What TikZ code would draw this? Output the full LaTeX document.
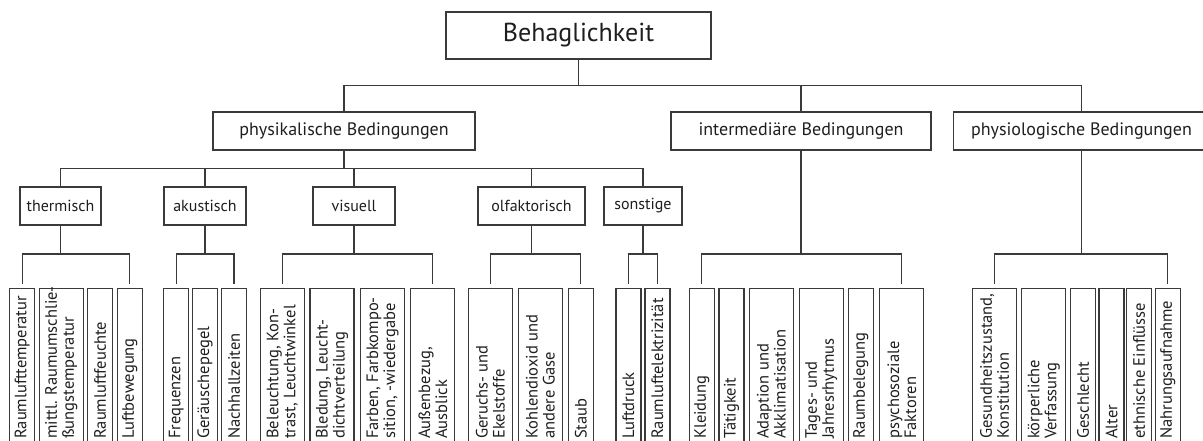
\documentclass[tikz,border=0pt]{standalone}
\usepackage{fontspec}
\setmainfont{PT Sans}
\definecolor{linec}{HTML}{3A3A3A}
\definecolor{txtc}{HTML}{1E1E1E}
\tikzset{
  box/.style={draw=linec, line width=1.1pt, inner sep=0pt, text=txtc},
  lvlone/.style={box, minimum height=38pt, font=\fontsize{18}{21}\selectfont},
  catbox/.style={box, minimum height=38pt, font=\fontsize{16}{19}\selectfont},
  leafbox/.style={draw=linec, line width=1.1pt, anchor=north, minimum height=180pt, inner sep=0pt},
  single/.style={leafbox, minimum width=25pt},
  double/.style={leafbox, minimum width=44pt},
  leaftext/.style={rotate=90, anchor=west, inner sep=0pt, align=left, text=txtc, font=\fontsize{16.5}{17}\selectfont},
  conn/.style={draw=linec, line width=1.1pt}
}
\begin{document}
\begin{tikzpicture}[x=1pt,y=-1pt]
\useasboundingbox (0,0) rectangle (1203,441);
% root and level 1
\node[box, minimum width=265pt, minimum height=47pt, font=\fontsize{26}{30}\selectfont] (root) at (578.5,35.5) {Behaglichkeit};
\node[lvlone, minimum width=262pt] (phys) at (344,131) {physikalische Bedingungen};
\node[lvlone, minimum width=260pt] (inter) at (801,131) {intermediäre Bedingungen};
\node[lvlone, minimum width=256pt] (phyl) at (1081.5,131) {physiologische Bedingungen};
% categories
\node[catbox, minimum width=81pt] (therm) at (60.5,206) {thermisch};
\node[catbox, minimum width=82pt] (akust) at (205,206) {akustisch};
\node[catbox, minimum width=82pt] (visu) at (354,206) {visuell};
\node[catbox, minimum width=107pt] (olfak) at (531.5,206) {olfaktorisch};
\node[catbox, minimum width=78pt] (sonst) at (643,206) {sonstige};
% leaves: thermisch
\node[single] (t1) at (22.2,288) {};
\node[leaftext] (t1x) at (22.2,439) {Raumlufttemperatur};
\node[double] (t2) at (61.3,288) {};
\node[leaftext] (t2x) at (61.3,439) {mittl. Raumumschlie-\\ßungstemperatur};
\node[single] (t3) at (100.2,288) {};
\node[leaftext] (t3x) at (100.2,439) {Raumluftfeuchte};
\node[single] (t4) at (129.8,288) {};
\node[leaftext] (t4x) at (129.8,439) {Luftbewegung};
% akustisch
\node[single] (a1) at (176.2,288) {};
\node[leaftext] (a1x) at (176.2,439) {Frequenzen};
\node[single] (a2) at (205,288) {};
\node[leaftext] (a2x) at (205,439) {Geräuschepegel};
\node[single] (a3) at (234,288) {};
\node[leaftext] (a3x) at (234,439) {Nachhallzeiten};
% visuell
\node[double] (v1) at (282.2,288) {};
\node[leaftext] (v1x) at (282.2,439) {Beleuchtung, Kon-\\trast, Leuchtwinkel};
\node[double] (v2) at (332,288) {};
\node[leaftext] (v2x) at (332,439) {Bledung, Leucht-\\dichtverteilung};
\node[double] (v3) at (382.5,288) {};
\node[leaftext] (v3x) at (382.5,439) {Farben, Farbkompo-\\sition, -wiedergabe};
\node[double] (v4) at (432.8,288) {};
\node[leaftext] (v4x) at (432.8,439) {Außenbezug,\\Ausblick};
% olfaktorisch
\node[double] (o1) at (490.3,288) {};
\node[leaftext] (o1x) at (490.3,439) {Geruchs- und\\Ekelstoffe};
\node[double] (o2) at (540.3,288) {};
\node[leaftext] (o2x) at (540.3,439) {Kohlendioxid und\\andere Gase};
\node[single] (o3) at (580.8,288) {};
\node[leaftext] (o3x) at (580.8,439) {Staub};
% sonstige
\node[single] (s1) at (628.5,288) {};
\node[leaftext] (s1x) at (628.5,439) {Luftdruck};
\node[single] (s2) at (657.5,288) {};
\node[leaftext] (s2x) at (657.5,439) {Raumluftelektrizität};
% intermediaere
\node[single] (i1) at (701.8,288) {};
\node[leaftext] (i1x) at (701.8,439) {Kleidung};
\node[single] (i2) at (731.5,288) {};
\node[leaftext] (i2x) at (731.5,439) {Tätigkeit};
\node[double] (i3) at (771.3,288) {};
\node[leaftext] (i3x) at (771.3,439) {Adaption und\\Akklimatisation};
\node[double] (i4) at (821.2,288) {};
\node[leaftext] (i4x) at (821.2,439) {Tages- und\\Jahresrhytmus};
\node[single] (i5) at (860.8,288) {};
\node[leaftext] (i5x) at (860.8,439) {Raumbelegung};
\node[double] (i6) at (901.8,288) {};
\node[leaftext] (i6x) at (901.8,439) {psychosoziale\\Faktoren};
% physiologische
\node[double] (p1) at (994.5,288) {};
\node[leaftext] (p1x) at (994.5,439) {Gesundheitszustand,\\Konstitution};
\node[double] (p2) at (1043.7,288) {};
\node[leaftext] (p2x) at (1043.7,439) {körperliche\\Verfassung};
\node[single] (p3) at (1083.2,288) {};
\node[leaftext] (p3x) at (1083.2,439) {Geschlecht};
\node[single] (p4) at (1111.5,288) {};
\node[leaftext] (p4x) at (1111.5,439) {Alter};
\node[single] (p5) at (1139.2,288) {};
\node[leaftext] (p5x) at (1139.2,439) {ethnische Einflüsse};
\node[single] (p6) at (1167.8,288) {};
\node[leaftext] (p6x) at (1167.8,439) {Nahrungsaufnahme};
% bus coordinates
\coordinate (b0) at (root.south |- 0,85.5);
\coordinate (b1) at (phys.south |- 0,168.5);
\coordinate (bt) at (therm.south |- 0,254);
\coordinate (ba) at (akust.south |- 0,254);
\coordinate (bv) at (visu.south |- 0,254);
\coordinate (bo) at (olfak.south |- 0,254);
\coordinate (bs) at (sonst.south |- 0,254);
\coordinate (bi) at (inter.south |- 0,254);
\coordinate (bp) at (phyl.south |- 0,254);
% connectors
\draw[conn] (root.south) -- (b0);
\draw[conn] (phys.north) |- (b0) -| (phyl.north);
\draw[conn] (inter.north) -- (inter.north |- b0);
\draw[conn] (phys.south) -- (b1);
\draw[conn] (therm.north) |- (b1) -| (sonst.north);
\draw[conn] (akust.north) -- (akust.north |- b1);
\draw[conn] (visu.north) -- (visu.north |- b1);
\draw[conn] (olfak.north) -- (olfak.north |- b1);
\draw[conn] (therm.south) -- (bt);
\draw[conn] ([yshift=4pt]t1.north) |- (bt) -| ([yshift=4pt]t4.north);
\draw[conn] (akust.south) -- (ba);
\draw[conn] ([yshift=4pt]a1.north) |- (ba) -| ([yshift=4pt]a3.north);
\draw[conn] (visu.south) -- (bv);
\draw[conn] ([yshift=4pt]v1.north) |- (bv) -| ([yshift=4pt]v4.north);
\draw[conn] (olfak.south) -- (bo);
\draw[conn] ([yshift=4pt]o1.north) |- (bo) -| ([yshift=4pt]o3.north);
\draw[conn] (sonst.south) -- (bs);
\draw[conn] ([yshift=4pt]s1.north) |- (bs) -| ([yshift=4pt]s2.north);
\draw[conn] (inter.south) -- (bi);
\draw[conn] ([yshift=4pt]i1.north) |- (bi) -| ([yshift=4pt]i6.north);
\draw[conn] (phyl.south) -- (bp);
\draw[conn] ([yshift=4pt]p1.north) |- (bp) -| ([yshift=4pt]p6.north);
\end{tikzpicture}
\end{document}
